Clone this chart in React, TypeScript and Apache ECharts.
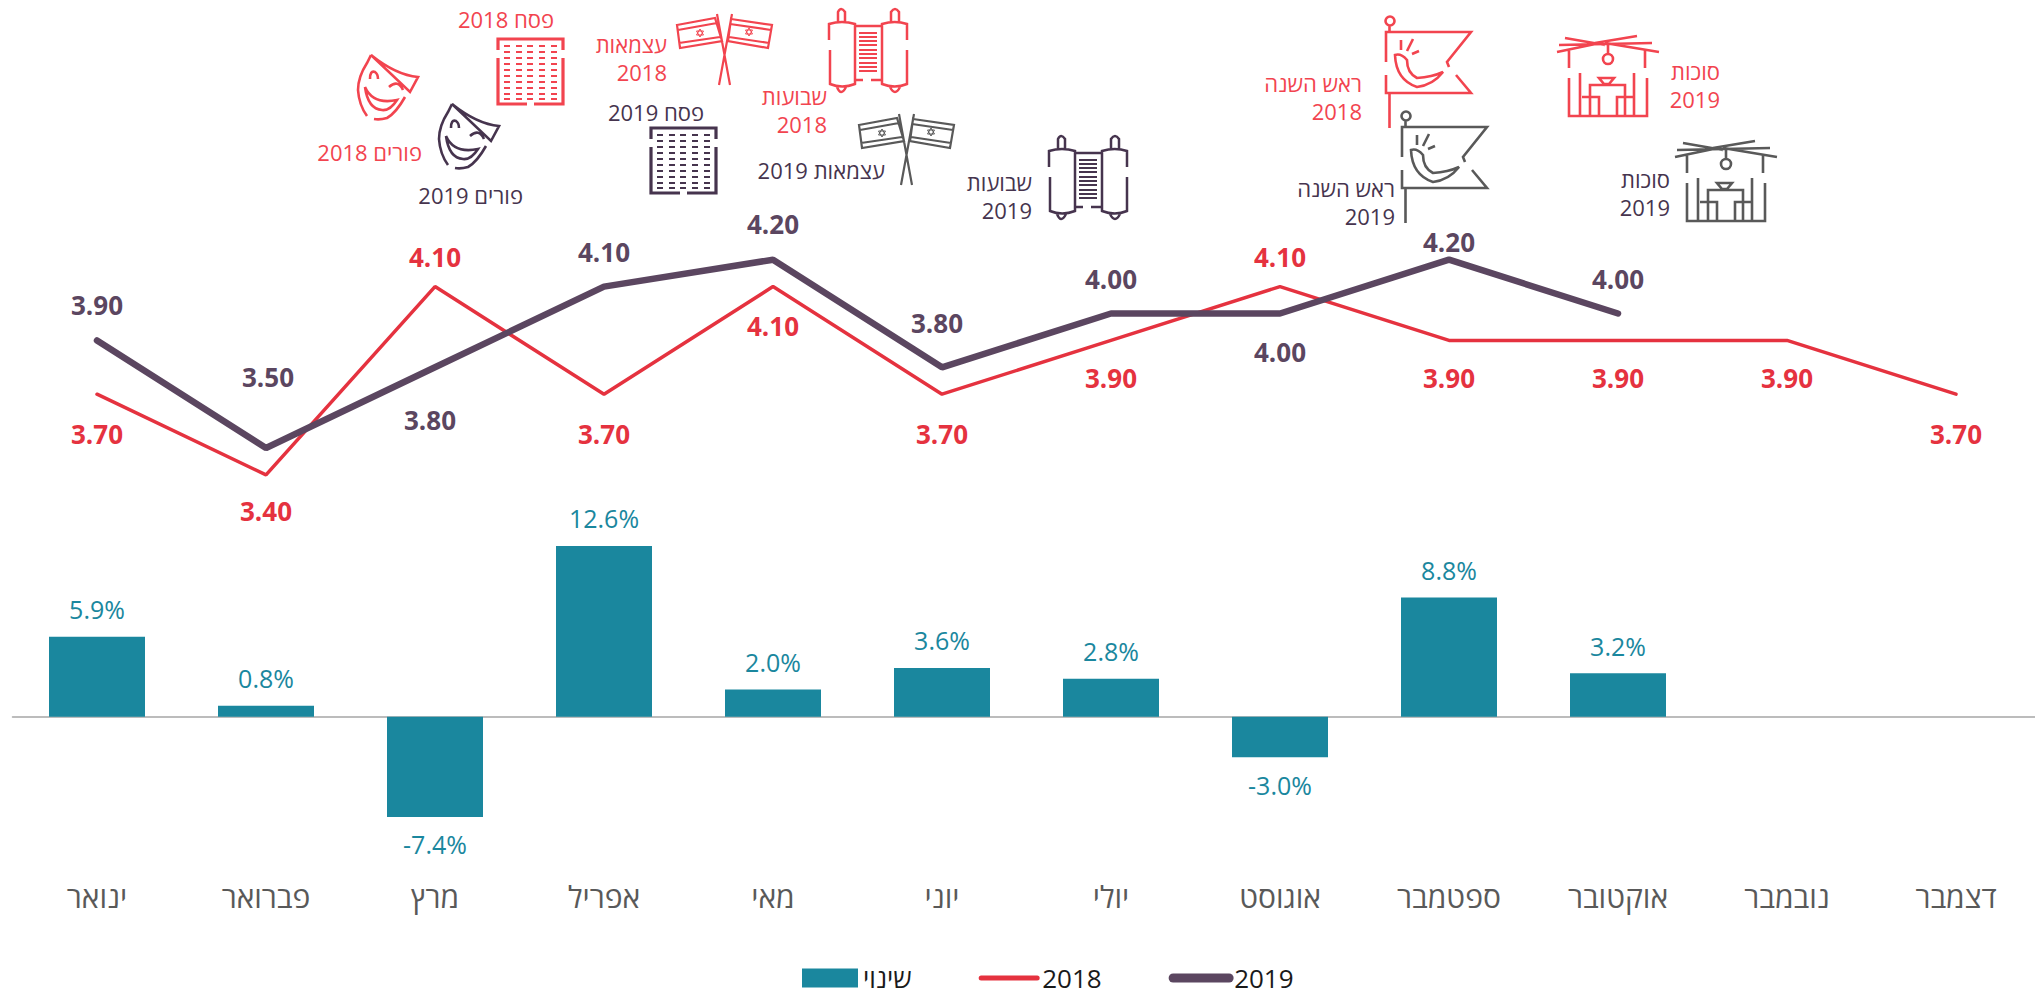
import React, { useEffect, useRef } from "react";
import * as echarts from "echarts";

const months = ["ינואר", "פברואר", "מרץ", "אפריל", "מאי", "יוני", "יולי", "אוגוסט", "ספטמבר", "אוקטובר", "נובמבר", "דצמבר"];
const values2018 = [3.7, 3.4, 4.1, 3.7, 4.1, 3.7, 3.9, 4.1, 3.9, 3.9, 3.9, 3.7];
const values2019 = [3.9, 3.5, 3.8, 4.1, 4.2, 3.8, 4.0, 4.0, 4.2, 4.0, null, null];
const change = [5.9, 0.8, -7.4, 12.6, 2.0, 3.6, 2.8, -3.0, 8.8, 3.2, null, null];

const shift2018 = [[0, 40], [0, 36], [0, -30], [0, 40], [0, 39], [0, 40], [0, 38], [0, -30], [0, 38], [0, 38], [0, 38], [0, 40]];
const shift2019 = [[0, -35], [2, -71], [-5, 53], [0, -35], [0, -36], [-5, -44], [0, -35], [0, 38], [0, -18], [0, -35]];

const RED_LINE = "#e5323f";
const PLUM_LINE = "#5b4660";
const TEAL = "#1a879e";
const RED_ICON = "#f2444f";
const PLUM_ICON = "#46344e";
const GREY_ICON = "#595959";
const FONT = '"Open Sans", "Noto Sans", sans-serif';

const hebrew2018 = "2018";
const hebrew2019 = "2019";
const notes = [
  { text: `פורים ${hebrew2018}`, right: 422, y: 152, color: RED_ICON },
  { text: `פורים ${hebrew2019}`, right: 523, y: 195, color: PLUM_ICON },
  { text: `פסח ${hebrew2018}`, right: 554, y: 19, color: RED_ICON },
  { text: `פסח ${hebrew2019}`, right: 704, y: 112, color: PLUM_ICON },
  { text: `עצמאות\n${hebrew2018}`, right: 667, y: 58, color: RED_ICON },
  { text: `עצמאות ${hebrew2019}`, right: 885, y: 170, color: PLUM_ICON },
  { text: `שבועות\n${hebrew2018}`, right: 827, y: 110, color: RED_ICON },
  { text: `שבועות\n${hebrew2019}`, right: 1032, y: 196, color: PLUM_ICON },
  { text: `ראש השנה\n${hebrew2018}`, right: 1362, y: 97, color: RED_ICON },
  { text: `ראש השנה\n${hebrew2019}`, right: 1395, y: 202, color: PLUM_ICON },
  { text: `סוכות\n${hebrew2019}`, right: 1720, y: 85, color: RED_ICON },
  { text: `סוכות\n${hebrew2019}`, right: 1670, y: 193, color: PLUM_ICON },
];

const dashes = (xs: number[], ys: number[], len: number) =>
  ys.map((y) => xs.map((x) => `M${x - len / 2} ${y}H${x + len / 2}`).join("")).join("");
const circle = (cx: number, cy: number, r: number) =>
  `M${cx - r} ${cy}A${r} ${r} 0 1 1 ${cx + r} ${cy}A${r} ${r} 0 1 1 ${cx - r} ${cy}Z`;
const star = (cx: number, cy: number, r: number) =>
  `M${cx} ${cy - r}L${cx + r * 0.87} ${cy + r / 2}H${cx - r * 0.87}Z` +
  `M${cx} ${cy + r}L${cx + r * 0.87} ${cy - r / 2}H${cx - r * 0.87}Z`;

const maskFrame =
  "M13 0L9 8Q0 22 0 35Q1 50 9 61M16 64Q22 65 29 63Q38 58 47 42M52 37L60 22Q38 20 13 0Z" +
  "M12 24Q12 15 17 17Q20 19 20 24M31 32Q40 24 45 35" +
  "M7 32Q15 50 39 45Q32 56 24 55Q10 54 7 32Z";
const matzahFrame = "M1 12V1H66V12M1 20V66H30M37 66H66V20";
const matzahGrid = dashes([10, 22, 33, 45, 57], [8, 14, 20, 26, 32, 38, 44, 50, 56, 61], 6);
const flags =
  "M1 12L39 5L46 28L4 35ZM2 17L41 10M3 30L44 24M41 1L54 72" +
  "M55 6L96 12L92 35L52 28ZM54 11L95 17M53 24L93 30M56 1L43 72";
const flagStars = star(24, 20, 4) + star(73, 19, 4);
const torah =
  "M1 33V17Q14 13 27 17V77Q14 82 2 77V43M10 15V5Q13 -1 17 5V15M9 80Q13 90 18 80" +
  "M79 33V17Q67 13 54 17V77Q67 82 79 77V43M63 15V5Q67 -1 71 5V15M62 80Q67 90 72 80" +
  "M27 19H54M27 73H35M43 73H54";
const torahRows = dashes([40], [26, 30, 34, 38, 43, 47, 51, 56, 60, 64], 18);
const shofarFlag =
  circle(6, 6, 4.5) +
  "M5.5 11V17M2 47V17H87L63 47L65 52M72 60L87 78H2V60M5.5 78V113" +
  "M11 40Q12 65 33 72Q49 70 59 57Q48 62 33 63Q23 58 23 45Q17 38 11 40Z" +
  "M17 25V35M29 24L23 36M35 36L28 39";
const sukkah =
  "M8 3L48 10M2 10L95 8M0 17L43 8M38 8L80 1M48 8L102 17M12 15V33M88 15V33M51 10V18" +
  circle(51, 24, 5) +
  "M12 43V81H90V43M23 38V81M77 38V81M33 81V50H68V81M42 43H57L52 49H47ZM25 62H42V81M77 62H60V81";

const shapes: Record<string, string> = { maskFrame, matzahFrame, matzahGrid, flags, flagStars, torah, torahRows, shofarFlag, sukkah };
Object.keys(shapes).forEach((k) => {
  echarts.graphic.registerShape(k, (echarts.graphic as any).extendPath(shapes[k], {}));
});

const icons = [
  { parts: [["maskFrame", 2.6]], x: 358, y: 55, color: RED_ICON },
  { parts: [["maskFrame", 2.6]], x: 439, y: 104, color: PLUM_ICON },
  { parts: [["matzahFrame", 3.2], ["matzahGrid", 2]], x: 497, y: 38, color: RED_ICON },
  { parts: [["matzahFrame", 3.2], ["matzahGrid", 2]], x: 650, y: 127, color: PLUM_ICON },
  { parts: [["flags", 2.2], ["flagStars", 1]], x: 676, y: 13, color: RED_ICON },
  { parts: [["flags", 2.2], ["flagStars", 1]], x: 858, y: 113, color: GREY_ICON },
  { parts: [["torah", 2.5], ["torahRows", 2]], x: 828, y: 7, color: RED_ICON },
  { parts: [["torah", 2.5], ["torahRows", 2]], x: 1048, y: 134, color: PLUM_ICON },
  { parts: [["shofarFlag", 2.6]], x: 1384, y: 15, color: RED_ICON },
  { parts: [["shofarFlag", 2.6]], x: 1400, y: 110, color: GREY_ICON },
  { parts: [["sukkah", 2.6]], x: 1557, y: 35, color: RED_ICON },
  { parts: [["sukkah", 2.6]], x: 1675, y: 140, color: GREY_ICON },
];

const lineLabels = (values: (number | null)[], shifts: number[][], color: string) =>
  values.map((v, i) => ({
    value: v,
    label: {
      show: v != null,
      position: "inside",
      offset: shifts[i] || [0, 0],
      align: "center",
      verticalAlign: "middle",
      formatter: (p: any) => Number(p.value).toFixed(2),
      color,
      fontFamily: FONT,
      fontWeight: "bold",
      fontSize: 26,
    },
  }));

export default function App() {
  const ref = useRef<HTMLDivElement>(null);
  useEffect(() => {
    document.body.style.margin = "0";
    const chart = echarts.init(ref.current!, null, { renderer: "svg" });
    const graphics: any[] = [];
    icons.forEach((ic) => {
      ic.parts.forEach(([type, lw]) => {
        graphics.push({
          type,
          x: ic.x,
          y: ic.y,
          silent: true,
          style: { fill: "none", stroke: ic.color, lineWidth: lw },
        });
      });
    });
    notes.forEach((n) => {
      graphics.push({
        type: "text",
        x: n.right,
        y: n.y,
        silent: true,
        style: {
          text: n.text,
          fill: n.color,
          font: `22px ${FONT}`,
          align: "right",
          verticalAlign: "middle",
          lineHeight: 28,
        },
      });
    });
    chart.setOption({
      animation: false,
      backgroundColor: "#ffffff",
      legend: {
        left: 797,
        top: 964,
        padding: [0, 5, 0, 5],
        itemWidth: 56,
        itemHeight: 19,
        itemGap: 67,
        selectedMode: false,
        data: [
          { name: "שינוי", icon: "rect" },
          { name: "2018", lineStyle: { width: 5, cap: "round" } },
          { name: "2019", lineStyle: { width: 9, cap: "round" } },
        ],
        textStyle: { fontFamily: FONT, fontSize: 26, lineHeight: 28, color: "#1a1a1a" },
      },
      grid: [
        { left: 12.5, width: 2028, top: 179, height: 403.5, outerBoundsMode: "none" },
        { left: 12.5, width: 2028, top: 527, height: 325.2, outerBoundsMode: "none" },
      ],
      xAxis: [
        { type: "category", gridIndex: 0, data: months, show: false },
        {
          type: "category",
          gridIndex: 1,
          data: months,
          axisLine: { onZero: true, lineStyle: { color: "#a6a6a6", width: 1.5 } },
          axisTick: { show: false },
          axisLabel: { margin: 29, color: "#595959", fontFamily: FONT, fontSize: 30, interval: 0 },
        },
      ],
      yAxis: [
        { type: "value", gridIndex: 0, min: 3, max: 4.5, show: false },
        { type: "value", gridIndex: 1, min: -10, max: 14, show: false },
      ],
      series: [
        {
          name: "שינוי",
          type: "bar",
          xAxisIndex: 1,
          yAxisIndex: 1,
          barWidth: 96,
          data: change,
          itemStyle: { color: TEAL },
          label: {
            show: true,
            position: "outside",
            distance: 15,
            formatter: (p: any) => `${Number(p.value).toFixed(1)}%`,
            color: TEAL,
            fontFamily: FONT,
            fontSize: 25,
          },
        },
        {
          name: "2018",
          type: "line",
          xAxisIndex: 0,
          yAxisIndex: 0,
          symbol: "circle",
          symbolSize: 1,
          itemStyle: { color: "transparent" },
          lineStyle: { color: RED_LINE, width: 3.5, cap: "round" },
          data: lineLabels(values2018, shift2018, RED_LINE),
        },
        {
          name: "2019",
          type: "line",
          xAxisIndex: 0,
          yAxisIndex: 0,
          symbol: "circle",
          symbolSize: 1,
          itemStyle: { color: "transparent" },
          lineStyle: { color: PLUM_LINE, width: 6.5, cap: "round" },
          data: lineLabels(values2019, shift2019, PLUM_LINE),
        },
      ],
      graphic: { elements: graphics },
    });
    return () => chart.dispose();
  }, []);
  return <div ref={ref} style={{ position: "absolute", left: 0, top: 0, width: 2035, height: 995 }} />;
}
